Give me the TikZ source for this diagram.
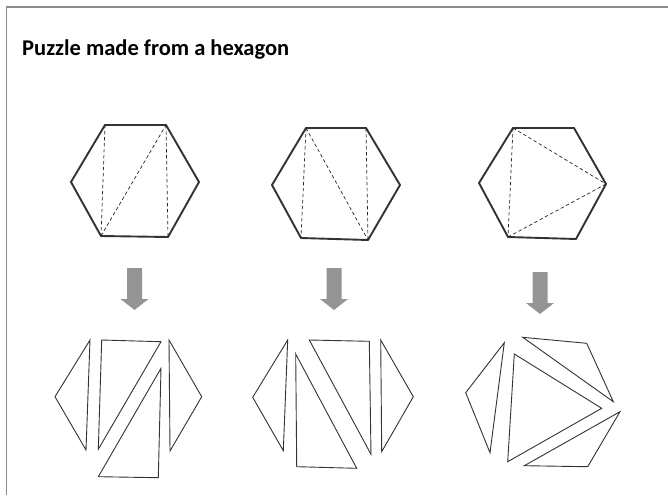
\documentclass[tikz,border=0pt]{standalone}
\usepackage{fontspec}
\setmainfont{Carlito}
\usetikzlibrary{positioning}

\begin{document}
\begin{tikzpicture}[x=1pt,y=-1pt,
  hexline/.style={line width=1.9pt,draw=black!80,line join=round},
  cutline/.style={line width=0.7pt,draw=black!85,dash pattern=on 3.5pt off 2.5pt},
  piece/.style={line width=0.9pt,draw=black!80,line join=miter},
  downarrow/.style={fill=black!42,draw=none}]
  \useasboundingbox (0,0) rectangle (668,495);
  \draw[black!45,line width=1.3pt] (6.5,495) -- (6.5,7) -- (668,7);
  \node[anchor=base west,inner sep=0pt,font=\bfseries\fontsize{22.5}{27}\selectfont] (title) at (22,56) {Puzzle made from a hexagon};

  % first hexagon
  \coordinate (a1) at (105,125); \coordinate (a2) at (166,125); \coordinate (a3) at (199,182);
  \coordinate (a4) at (168,237); \coordinate (a5) at (101,236); \coordinate (a6) at (71,182);
  \draw[hexline] (a1)--(a2)--(a3)--(a4)--(a5)--(a6)--cycle;
  \draw[cutline] (a1)--(a5); \draw[cutline] (a5)--(a2); \draw[cutline] (a2)--(a4);

  % second hexagon
  \coordinate (b1) at (306,128); \coordinate (b2) at (366,128); \coordinate (b3) at (400,185);
  \coordinate (b4) at (368,240); \coordinate (b5) at (301,238); \coordinate (b6) at (272,185);
  \draw[hexline] (b1)--(b2)--(b3)--(b4)--(b5)--(b6)--cycle;
  \draw[cutline] (b1)--(b5); \draw[cutline] (b1)--(b4); \draw[cutline] (b2)--(b4);

  % third hexagon
  \coordinate (c1) at (513,128); \coordinate (c2) at (574,128); \coordinate (c3) at (606,184);
  \coordinate (c4) at (576,239); \coordinate (c5) at (508,237); \coordinate (c6) at (479,183);
  \draw[hexline] (c1)--(c2)--(c3)--(c4)--(c5)--(c6)--cycle;
  \draw[cutline] (c1)--(c5); \draw[cutline] (c1)--(c3); \draw[cutline] (c3)--(c5);

  % arrows
  \foreach \ax/\ay in {134.5/268, 334/268, 540/272}
    \fill[downarrow,shift={(\ax,\ay)}] (-7.5,0) -- (7.5,0) -- (7.5,31) -- (14,31) -- (0,42) -- (-14,31) -- (-7.5,31) -- cycle;

  % pieces of the first hexagon
  \draw[piece] (90,340) -- (55,396.7) -- (86,450) -- cycle;
  \draw[piece] (101.7,340) -- (161,341.7) -- (98.3,449.3) -- cycle;
  \draw[piece] (161,368.3) -- (158.3,477.7) -- (98.3,476.7) -- cycle;
  \draw[piece] (169,340) -- (201.7,396.7) -- (170,451) -- cycle;

  % pieces of the second hexagon
  \draw[piece] (287.7,340) -- (252.7,397.3) -- (283.3,450.7) -- cycle;
  \draw[piece] (309.3,340) -- (369.3,341.3) -- (371,454.3) -- cycle;
  \draw[piece] (295.7,354) -- (356.7,468.3) -- (296.7,466.7) -- cycle;
  \draw[piece] (380.7,340) -- (413.3,396.7) -- (381.7,451.7) -- cycle;

  % pieces of the third hexagon
  \draw[piece] (504.3,342.7) -- (465.7,392.7) -- (490,452.7) -- cycle;
  \draw[piece] (522.7,337.3) -- (586.7,343.3) -- (613.3,401.7) -- cycle;
  \draw[piece] (514.3,354) -- (601.7,408.3) -- (507.7,461.7) -- cycle;
  \draw[piece] (620,411.7) -- (587.7,466.7) -- (524.3,465.7) -- cycle;
\end{tikzpicture}
\end{document}
